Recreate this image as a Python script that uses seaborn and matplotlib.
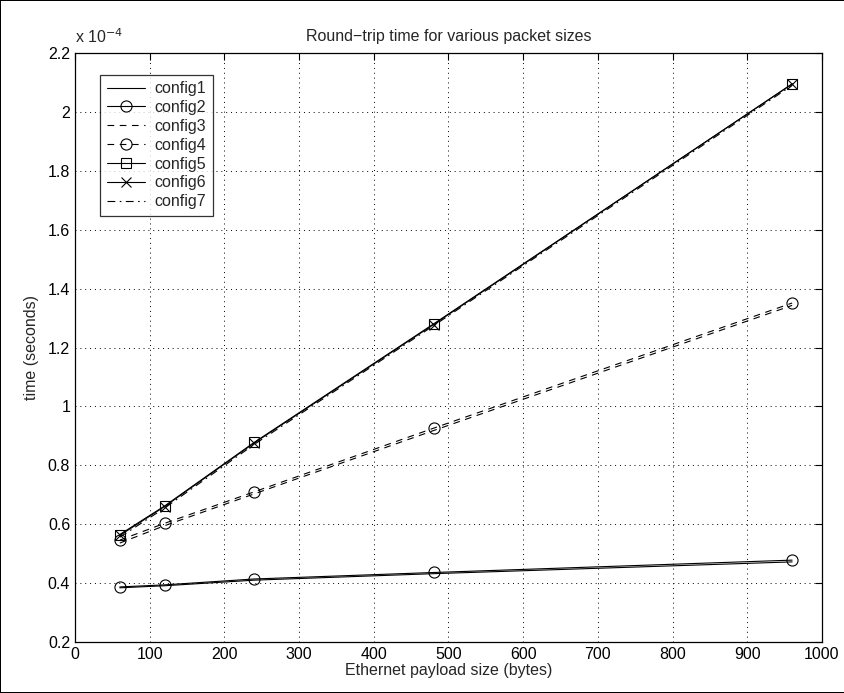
import numpy as np
import pandas as pd
import matplotlib
matplotlib.use("Agg")
import matplotlib.pyplot as plt
import matplotlib.ticker as mticker
import seaborn as sns

# Ethernet payload sizes (bytes)
payload = [60, 120, 240, 480, 960]

# Round-trip times, in units of 1e-4 seconds
config1 = [0.384, 0.391, 0.410, 0.432, 0.472]
config2 = [0.387, 0.394, 0.414, 0.436, 0.478]
config3 = [0.536, 0.595, 0.703, 0.918, 1.343]
config4 = [0.546, 0.603, 0.710, 0.926, 1.351]
config5 = [0.565, 0.662, 0.878, 1.280, 2.095]
config6 = [0.562, 0.660, 0.876, 1.278, 2.095]
config7 = [0.556, 0.655, 0.871, 1.274, 2.090]

series = {
    "config1": config1, "config2": config2, "config3": config3,
    "config4": config4, "config5": config5, "config6": config6,
    "config7": config7,
}
styles = {
    "config1": dict(linestyle="-", marker=None),
    "config2": dict(linestyle="-", marker="o"),
    "config3": dict(linestyle=(0, (6, 5)), marker=None),
    "config4": dict(linestyle=(0, (6, 5)), marker="o"),
    "config5": dict(linestyle="-", marker="s"),
    "config6": dict(linestyle="-", marker="x"),
    "config7": dict(linestyle=(0, (7, 4, 1.5, 4)), marker=None),
}

FS = 11.5

sns.set_style("white")
plt.rcParams["font.family"] = ["Liberation Sans", "DejaVu Sans"]
plt.rcParams["font.size"] = FS

fig = plt.figure(figsize=(8.45, 6.93), dpi=100)
fig.patch.set_edgecolor("black")
fig.patch.set_linewidth(1.2)
ax = fig.add_axes([75 / 845, 1 - 642 / 693, (822 - 75) / 845, (642 - 53) / 693])

for name, vals in series.items():
    df = pd.DataFrame({"size": payload, "time": vals})
    st = styles[name]
    sns.lineplot(data=df, x="size", y="time", ax=ax, color="black",
                 linewidth=0.8, linestyle=st["linestyle"], marker=st["marker"],
                 markersize=8 if st["marker"] == "o" else 7,
                 markerfacecolor="none", markeredgecolor="black",
                 markeredgewidth=0.8, label=name)

ax.set_xlim(0, 1000)
ax.set_ylim(0.2, 2.2)
ax.xaxis.set_major_locator(mticker.MultipleLocator(100))
ax.yaxis.set_major_locator(mticker.MultipleLocator(0.2))
ax.yaxis.set_major_formatter(mticker.FuncFormatter(lambda v, p: f"{v:g}"))
ax.tick_params(direction="in", top=True, right=True, length=5, width=0.8,
               labelsize=FS, colors="black")
ax.grid(True, linestyle=(0, (1, 4)), color="black", linewidth=0.7)
for sp in ax.spines.values():
    sp.set_color("black")
    sp.set_linewidth(0.9)

ax.set_title("Round\u2212trip time for various packet sizes", fontsize=FS, pad=9)
ax.set_xlabel("Ethernet payload size (bytes)", fontsize=FS, labelpad=1)
ax.set_ylabel("time (seconds)", fontsize=FS, labelpad=6)
ax.text(0.0, 1.012, "x 10$^{-4}$", transform=ax.transAxes, fontsize=FS,
        ha="left", va="bottom")

leg = ax.legend(loc="upper left", bbox_to_anchor=(0.034, 0.963), frameon=True,
                fancybox=False, edgecolor="black", fontsize=FS,
                handlelength=2.4, borderpad=0.4, labelspacing=0.24,
                handletextpad=0.6, borderaxespad=0)
leg.get_frame().set_linewidth(0.9)

fig.savefig("out.png", dpi=100, edgecolor=fig.get_edgecolor())
